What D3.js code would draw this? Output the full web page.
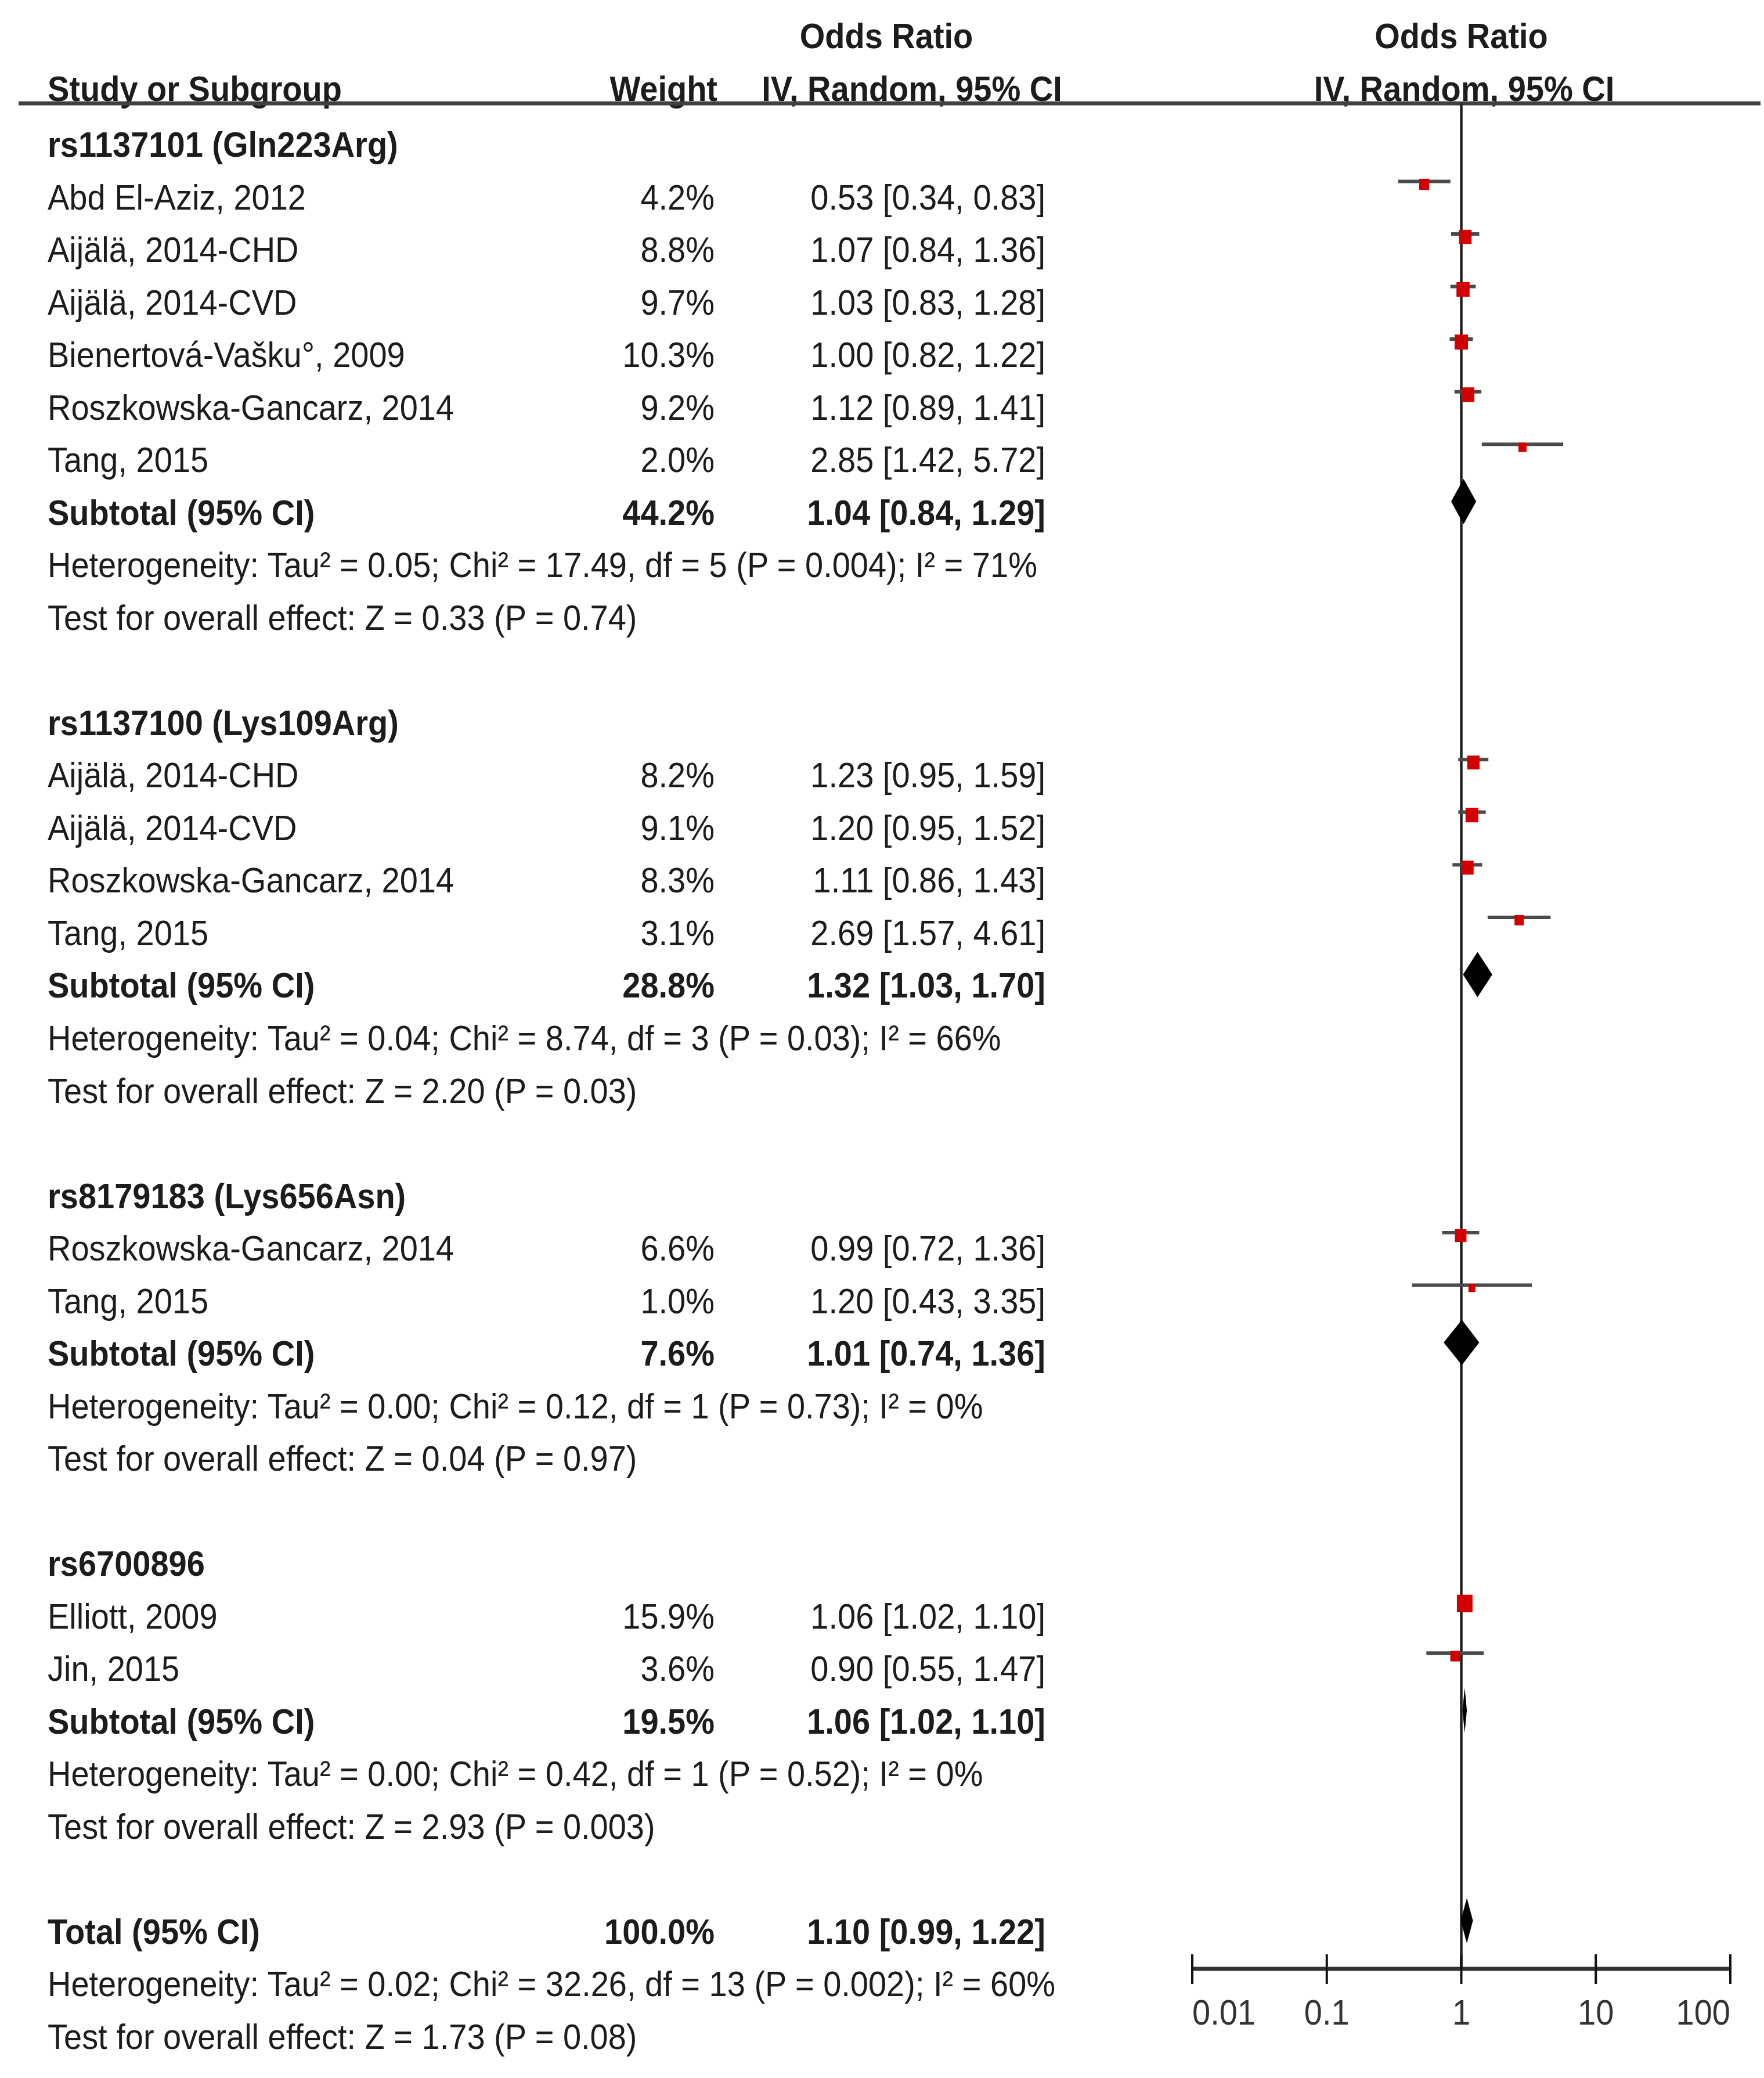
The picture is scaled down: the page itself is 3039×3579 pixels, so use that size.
<!DOCTYPE html>
<html>
<head>
<meta charset="utf-8">
<script src="https://cdn.jsdelivr.net/npm/d3@7"></script>
<style>
  html, body { margin: 0; padding: 0; background: #fff; }
  svg { display: block; }
</style>
</head>
<body>
<div id="chart"></div>
<script>
// ---------------- DATA ----------------
const groupNames = ["rs1137101 (Gln223Arg)", "rs1137100 (Lys109Arg)", "rs8179183 (Lys656Asn)", "rs6700896"];

const studyNames = [
  ["Abd El-Aziz, 2012", "Aijälä, 2014-CHD", "Aijälä, 2014-CVD", "Bienertová-Vašku°, 2009", "Roszkowska-Gancarz, 2014", "Tang, 2015"],
  ["Aijälä, 2014-CHD", "Aijälä, 2014-CVD", "Roszkowska-Gancarz, 2014", "Tang, 2015"],
  ["Roszkowska-Gancarz, 2014", "Tang, 2015"],
  ["Elliott, 2009", "Jin, 2015"]
];
const studyWeights = [
  [4.2, 8.8, 9.7, 10.3, 9.2, 2.0],
  [8.2, 9.1, 8.3, 3.1],
  [6.6, 1.0],
  [15.9, 3.6]
];
const studyOR = [
  [0.53, 1.07, 1.03, 1.00, 1.12, 2.85],
  [1.23, 1.20, 1.11, 2.69],
  [0.99, 1.20],
  [1.06, 0.90]
];
const studyLower = [
  [0.34, 0.84, 0.83, 0.82, 0.89, 1.42],
  [0.95, 0.95, 0.86, 1.57],
  [0.72, 0.43],
  [1.02, 0.55]
];
const studyUpper = [
  [0.83, 1.36, 1.28, 1.22, 1.41, 5.72],
  [1.59, 1.52, 1.43, 4.61],
  [1.36, 3.35],
  [1.10, 1.47]
];

const subtotalWeights = [44.2, 28.8, 7.6, 19.5];
const subtotalOR = [1.04, 1.32, 1.01, 1.06];
const subtotalLower = [0.84, 1.03, 0.74, 1.02];
const subtotalUpper = [1.29, 1.70, 1.36, 1.10];
const heterogeneityTexts = [
  "Heterogeneity: Tau² = 0.05; Chi² = 17.49, df = 5 (P = 0.004); I² = 71%",
  "Heterogeneity: Tau² = 0.04; Chi² = 8.74, df = 3 (P = 0.03); I² = 66%",
  "Heterogeneity: Tau² = 0.00; Chi² = 0.12, df = 1 (P = 0.73); I² = 0%",
  "Heterogeneity: Tau² = 0.00; Chi² = 0.42, df = 1 (P = 0.52); I² = 0%"
];
const overallEffectTexts = [
  "Test for overall effect: Z = 0.33 (P = 0.74)",
  "Test for overall effect: Z = 2.20 (P = 0.03)",
  "Test for overall effect: Z = 0.04 (P = 0.97)",
  "Test for overall effect: Z = 2.93 (P = 0.003)"
];

const totalWeight = 100.0;
const totalOR = 1.10;
const totalLower = 0.99;
const totalUpper = 1.22;
const totalHeterogeneity = "Heterogeneity: Tau² = 0.02; Chi² = 32.26, df = 13 (P = 0.002); I² = 60%";
const totalOverallEffect = "Test for overall effect: Z = 1.73 (P = 0.08)";

const axisTicks = [0.01, 0.1, 1, 10, 100];
const axisTickLabels = ["0.01", "0.1", "1", "10", "100"];

// ---------------- LAYOUT ----------------
const W = 3039, H = 3579;
const FONT = "'Liberation Sans', Arial, 'DejaVu Sans', sans-serif";
const FS = 56;
const STRETCH = 1.08;
const TEXT = "#1c1c1c";

const fmt2 = d3.format(".2f");
const fmt1 = d3.format(".1f");
const ciText = (o, l, u) => `${fmt2(o)} [${fmt2(l)}, ${fmt2(u)}]`;

// Build rows
const rows = [];
groupNames.forEach((g, gi) => {
  rows.push({type: "group", label: g});
  studyNames[gi].forEach((s, si) => {
    rows.push({type: "study", label: s, w: studyWeights[gi][si], or: studyOR[gi][si],
               lo: studyLower[gi][si], hi: studyUpper[gi][si]});
  });
  rows.push({type: "subtotal", label: "Subtotal (95% CI)", w: subtotalWeights[gi], or: subtotalOR[gi],
             lo: subtotalLower[gi], hi: subtotalUpper[gi]});
  rows.push({type: "note", label: heterogeneityTexts[gi]});
  rows.push({type: "note", label: overallEffectTexts[gi]});
  if (gi < groupNames.length - 1) rows.push({type: "blank"});
});
rows.push({type: "blank"});
rows.push({type: "total", label: "Total (95% CI)", w: totalWeight, or: totalOR, lo: totalLower, hi: totalUpper});
rows.push({type: "note", label: totalHeterogeneity});
rows.push({type: "note", label: totalOverallEffect});
rows.forEach((r, i) => r.i = i);

const yRow = d3.scaleLinear().domain([0, rows.length - 1]).range([248, 3507]);
const x = d3.scaleLog().domain([0.01, 100]).range([2054, 2981]);
const sqSize = d3.scaleSqrt().domain([0, 16]).range([7, 27]);

const colLabel = 82, colWeight = 1231, colOR = 1801;
const headerLineY = 178, axisY = 3391;

const svg = d3.select("#chart").append("svg")
  .attr("width", W).attr("height", H)
  .attr("viewBox", `0 0 ${W} ${H}`);
svg.append("rect").attr("width", W).attr("height", H).attr("fill", "#fff");

function txt(g, s, tx, ty, opts = {}) {
  return g.append("text")
    .attr("transform", `translate(${tx},${ty}) scale(1,${STRETCH})`)
    .attr("font-family", FONT)
    .attr("font-size", opts.size || FS)
    .attr("font-weight", opts.bold ? "bold" : "normal")
    .attr("text-anchor", opts.anchor || "start")
    .attr("fill", opts.fill || TEXT)
    .text(s);
}

// ---------------- HEADER ----------------
const hdr = svg.append("g");
txt(hdr, "Odds Ratio", 1527, 83, {bold: true, anchor: "middle"});
txt(hdr, "Odds Ratio", x(1), 83, {bold: true, anchor: "middle"});
txt(hdr, "Study or Subgroup", colLabel, 174, {bold: true});
txt(hdr, "Weight", 1236, 174, {bold: true, anchor: "end"});
txt(hdr, "IV, Random, 95% CI", 1571, 174, {bold: true, anchor: "middle"});
txt(hdr, "IV, Random, 95% CI", x(1) + 5, 174, {bold: true, anchor: "middle"});

hdr.append("line")
  .attr("x1", 32).attr("x2", 3033)
  .attr("y1", headerLineY).attr("y2", headerLineY)
  .attr("stroke", "#404040").attr("stroke-width", 7);

// ---------------- TABLE TEXT ----------------
const tbl = svg.append("g");
rows.forEach(r => {
  if (r.type === "blank") return;
  const base = yRow(r.i) + 22;
  const bold = r.type === "group" || r.type === "subtotal" || r.type === "total";
  txt(tbl, r.label, colLabel, base, {bold});
  if (r.w !== undefined) {
    txt(tbl, fmt1(r.w) + "%", colWeight, base, {bold, anchor: "end"});
    txt(tbl, ciText(r.or, r.lo, r.hi), colOR, base, {bold, anchor: "end"});
  }
});

// ---------------- PLOT ----------------
const plot = svg.append("g");

// line of no effect
plot.append("line")
  .attr("x1", x(1)).attr("x2", x(1))
  .attr("y1", headerLineY).attr("y2", axisY)
  .attr("stroke", "#202020").attr("stroke-width", 4.5);

// studies
const studies = rows.filter(r => r.type === "study");
const sg = plot.selectAll("g.study").data(studies).join("g").attr("class", "study");
sg.append("line")
  .attr("x1", d => x(d.lo)).attr("x2", d => x(d.hi))
  .attr("y1", d => yRow(d.i) - 26).attr("y2", d => yRow(d.i) - 26)
  .attr("stroke", "#4a4a4a").attr("stroke-width", 6);
sg.append("rect")
  .attr("x", d => x(d.or) - sqSize(d.w) / 2)
  .attr("y", d => yRow(d.i) - 26 + 5 - sqSize(d.w) * 1.12 / 2)
  .attr("width", d => sqSize(d.w))
  .attr("height", d => sqSize(d.w) * 1.12)
  .attr("fill", "#d20000");

// diamonds
const pooled = rows.filter(r => r.type === "subtotal" || r.type === "total");
plot.selectAll("path.diamond").data(pooled).join("path")
  .attr("class", "diamond")
  .attr("d", d => {
    const cy = yRow(d.i) - 18, h = 39;
    return `M${x(d.lo)},${cy} L${x(d.or)},${cy - h} L${x(d.hi)},${cy} L${x(d.or)},${cy + h} Z`;
  })
  .attr("fill", "#000");

// axis
const ax = svg.append("g");
ax.append("line")
  .attr("x1", x(0.01)).attr("x2", x(100))
  .attr("y1", axisY).attr("y2", axisY)
  .attr("stroke", "#333").attr("stroke-width", 7);
ax.selectAll("line.tick").data(axisTicks).join("line")
  .attr("class", "tick")
  .attr("x1", d => x(d)).attr("x2", d => x(d))
  .attr("y1", axisY - 25).attr("y2", axisY + 26)
  .attr("stroke", "#111").attr("stroke-width", 4);
axisTicks.forEach((t, k) => {
  const anchor = k === 0 ? "start" : (k === axisTicks.length - 1 ? "end" : "middle");
  txt(ax, axisTickLabels[k], x(t), 3487, {anchor, fill: "#333"});
});
</script>
</body>
</html>
